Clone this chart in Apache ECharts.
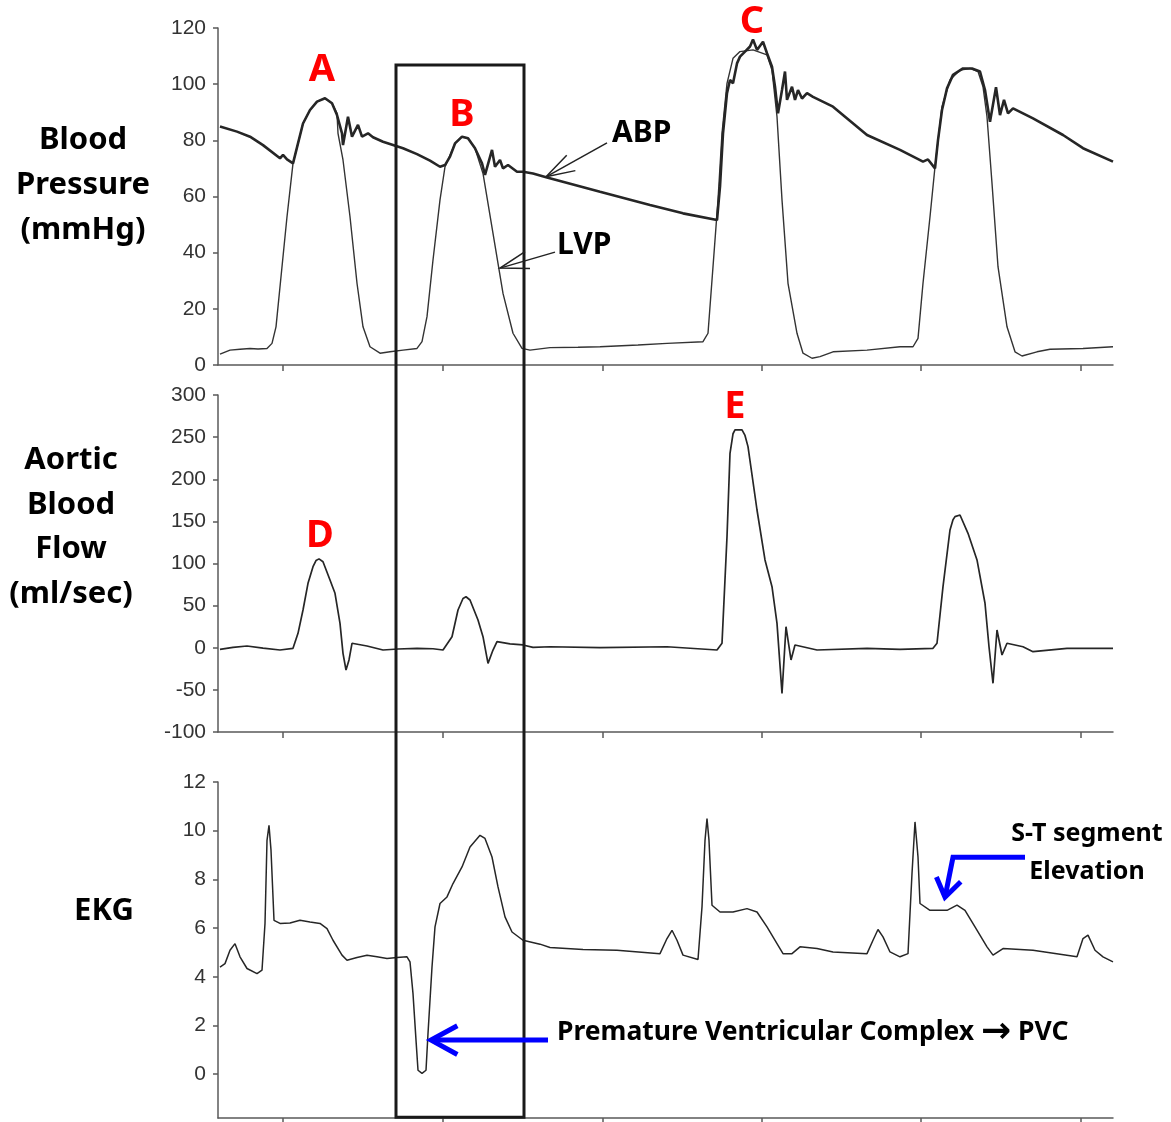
<!DOCTYPE html>
<html>
<head>
    <meta charset="utf-8">
    <script type="text/javascript" src="https://cdn.jsdelivr.net/npm/echarts@6/dist/echarts.min.js"></script>
    <style>
        html, body { margin: 0; padding: 0; background: #fff; }
    </style>
</head>
<body>
<div id="main" style="width:1171px;height:1122px;"></div>

<script type="text/javascript">
    // time axis is in samples; ticks where the original recording had them
    var timeTicks = [65, 225, 385, 544, 703, 863];
    var ekgTicks = [0, 2, 4, 6, 8, 10, 12];

    // arterial blood pressure (mmHg)
    var abp = [[2,84.9],[19,83.1],[32,81.3],[45,78.3],[62,73.6],[65,74.8],[69,73.2],[75,71.8],[80,78.9],[85,86],
        [92,90.8],[99,93.8],[107,95],[114,93.2],[119,89],[124,82.5],[125,78.3],[130,88.4],[134,81.3],[140,85.5],
        [144,81.3],[150,82.5],[155,81.1],[165,79.5],[185,77.2],[199,75.1],[212,72.8],[222,70.6],[227,71.2],[232,74.2],
        [237,78.9],[244,81.3],[250,80.7],[257,77.2],[264,71.8],[267,67.7],[274,76.6],[277,70.6],[282,73],[285,70],
        [290,71.2],[299,68.8],[305,68.8],[315,68.2],[329,66.8],[382,61.7],[432,57],[465,54],[499,51.6],[502,63.5],
        [505,82.5],[509,96.8],[512,101.5],[515,100.3],[519,107.4],[522,109.8],[527,111.6],[532,113.4],[535,115.9],[539,112.2],
        [545,115.1],[549,111],[554,106.2],[557,99.1],[560,89.6],[564,97.9],[567,104.5],[569,94.4],[574,99.1],[577,94.4],
        [580,97.9],[584,94.9],[589,96.8],[595,95.5],[615,92],[649,81.9],[682,76.6],[705,72.4],[710,73.2],[717,70],
        [720,80.1],[724,90.8],[729,98.5],[735,103.3],[745,105.6],[754,105.6],[762,104.5],[767,97.9],[772,86.6],[778,98.9],
        [782,89],[786,94.4],[790,89.6],[795,91.4],[815,87.8],[845,81.9],[865,77.2],[895,72.4]];

    // left ventricular pressure (mmHg)
    var lvp = [[2,3.9],[12,5.3],[22,5.6],[32,5.9],[40,5.7],[49,5.9],[54,7.7],[58,13.6],[64,35],[69,52.8],
        [75,71.8],[85,86],[92,90.8],[99,93.8],[107,95],[114,93.2],[119,89.6],[120,82.5],[125,73],[132,52.8],
        [139,29.1],[145,13.6],[152,6.5],[162,4.2],[172,4.7],[185,5.3],[199,5.9],[204,8.3],[209,17.2],[215,37.4],
        [222,58.8],[227,70.6],[237,78.9],[244,81.3],[250,80.7],[257,77.2],[265,68.2],[275,46.9],[285,25.5],[295,11.3],
        [304,5.9],[312,5.3],[332,6.2],[360,6.3],[382,6.5],[420,7.1],[449,7.7],[485,8.3],[490,11.3],[495,35],
        [500,58.8],[504,82.5],[509,100.3],[515,109.2],[522,111.6],[535,112.2],[549,110.4],[554,105],[559,88.4],[564,58.8],
        [570,29.1],[579,11.3],[585,4.2],[594,2.4],[602,3],[615,4.7],[649,5.3],[682,6.5],[695,6.5],[700,9.5],
        [705,29.1],[712,52.8],[717,70.6],[724,92],[732,101.5],[742,105],[752,105.6],[760,104.5],[765,99.1],[769,88.4],
        [774,64.7],[780,35],[789,13.6],[797,4.7],[804,3.2],[819,4.7],[832,5.6],[865,5.9],[895,6.5]];

    // aortic blood flow (ml/sec)
    var flow = [[2,-1.9],[15,0.5],[29,2.1],[45,-0.5],[62,-2.7],[75,-0.7],[80,17.1],[85,44.8],[90,76.5],[95,96.2],
        [98,103.5],[101,105.5],[105,102.1],[112,80.4],[117,64.6],[122,29],[125,-6.6],[128,-26.4],[131,-14.5],[134,5.3],[149,2.1],
        [165,-2.7],[180,-1.5],[199,-0.7],[215,-1.2],[225,-2.7],[234,13.1],[240,44.8],[245,58.5],[248,60.5],[252,56.7],[260,32.9],
        [265,13.1],[270,-18.5],[275,-2.7],[279,7.2],[292,4.5],[305,3.3],[315,0.5],[332,1.2],[382,0.1],[449,1.2],
        [499,-2.7],[504,5.3],[509,131.8],[512,230.8],[515,254],[517,258.5],[524,258.5],[527,252],[530,238.7],[539,163.5],[547,104.2],[554,72.5],
        [559,29],[564,-54.1],[568,25],[573,-14.5],[577,3.3],[599,-2.7],[649,-0.7],[682,-1.9],[715,-0.7],[719,5.3],
        [725,72.5],[732,139.8],[735,152],[737,155.6],[742,157.6],[750,135.8],[759,104.2],[767,52.8],[771,1.2],[775,-42.2],[779,21.1],
        [784,-8.6],[789,5.3],[805,1.2],[815,-4.7],[849,-0.7],[895,-0.7]];

    // EKG (mV, offset)
    var ekg = [[2,4.4],[7,4.54],[12,5.09],[17,5.36],[22,4.82],[29,4.34],[39,4.13],[44,4.27],[47,6.19],[49,9.6],
        [51,10.22],[53,9.2],[56,6.32],[62,6.19],[72,6.21],[82,6.32],[92,6.25],[102,6.19],[109,5.98],[115,5.5],
        [124,4.89],[129,4.68],[139,4.79],[149,4.88],[159,4.82],[169,4.75],[179,4.79],[189,4.82],[192,4.61],[195,3.31],
        [198,1.4],[200,0.16],[204,0.03],[208,0.16],[210,1.67],[214,4.4],[217,6.05],[222,7.01],[229,7.28],[235,7.83],
        [244,8.51],[252,9.33],[262,9.81],[267,9.68],[274,8.92],[280,7.69],[287,6.46],[294,5.84],[305,5.5],[322,5.34],
        [332,5.2],[365,5.12],[399,5.09],[442,4.95],[449,5.57],[454,5.91],[459,5.5],[465,4.89],[480,4.71],[484,6.87],
        [487,9.6],[489,10.5],[491,9.6],[494,6.94],[502,6.66],[515,6.66],[529,6.8],[539,6.66],[549,6.05],[559,5.36],
        [565,4.95],[574,4.95],[582,5.23],[599,5.16],[615,5.02],[649,4.95],[655,5.5],[660,5.94],[665,5.64],[672,5.02],
        [682,4.82],[690,4.95],[694,8.24],[697,10.36],[700,8.92],[702,7.01],[712,6.73],[729,6.73],[739,6.94],[747,6.73],
        [757,6.05],[769,5.23],[775,4.89],[785,5.16],[815,5.09],[859,4.82],[865,5.57],[870,5.71],[877,5.09],[885,4.82],
        [895,4.61]];

    var axisColor = '#5a5a5a';
    var lineColor = '#262626';

    function xAxis(i) {
        return {
            type: 'value', gridIndex: i, min: 0, max: 895,
            axisLine: { onZero: false, lineStyle: { color: axisColor, width: 1.5 } },
            axisTick: { show: true, length: 6, customValues: timeTicks, lineStyle: { color: axisColor, width: 1.5 } },
            axisLabel: { show: false },
            splitLine: { show: false }
        };
    }
    function yAxis(i, extra) {
        var ax = {
            type: 'value', gridIndex: i,
            axisLine: { show: true, onZero: false, lineStyle: { color: axisColor, width: 1.5 } },
            axisTick: { show: true, length: 5, lineStyle: { color: axisColor, width: 1.5 } },
            axisLabel: { color: '#333', fontSize: 21, fontFamily: 'Liberation Sans', margin: 12 },
            splitLine: { show: false }
        };
        for (var k in extra) {
            if (typeof extra[k] === 'object' && ax[k]) Object.assign(ax[k], extra[k]);
            else ax[k] = extra[k];
        }
        return ax;
    }

    var chart = echarts.init(document.getElementById('main'));
    chart.setOption({
        animation: false,
        backgroundColor: '#fff',
        grid: [
            { left: 218, right: 58, top: 28, height: 337, outerBoundsMode: 'none' },
            { left: 218, right: 58, top: 395, height: 337, outerBoundsMode: 'none' },
            { left: 218, right: 58, top: 782, height: 336, outerBoundsMode: 'none' }
        ],
        xAxis: [xAxis(0), xAxis(1), xAxis(2)],
        yAxis: [
            yAxis(0, { min: 0, max: 120, interval: 20 }),
            yAxis(1, { min: -100, max: 300, interval: 50 }),
            yAxis(2, { min: -1.8, max: 12, axisTick: { customValues: ekgTicks }, axisLabel: { customValues: ekgTicks } })
        ],
        series: [
            { name: 'LVP', type: 'line', xAxisIndex: 0, yAxisIndex: 0, data: lvp, showSymbol: false, z: 2,
              lineStyle: { color: '#333', width: 1.4 } },
            { name: 'ABP', type: 'line', xAxisIndex: 0, yAxisIndex: 0, data: abp, showSymbol: false, z: 3,
              lineStyle: { color: lineColor, width: 2.6 } },
            { name: 'Flow', type: 'line', xAxisIndex: 1, yAxisIndex: 1, data: flow, showSymbol: false,
              lineStyle: { color: lineColor, width: 1.7 } },
            { name: 'EKG', type: 'line', xAxisIndex: 2, yAxisIndex: 2, data: ekg, showSymbol: false,
              lineStyle: { color: lineColor, width: 1.5 } }
        ]
    });

    // annotations, anchored in data coordinates of each panel
    function px(g, pt) { return chart.convertToPixel({ gridIndex: g }, pt); }
    function head(from, tip, len, ang) {
        var a = Math.atan2(from[1] - tip[1], from[0] - tip[0]);
        return [[tip[0] + len * Math.cos(a + ang), tip[1] + len * Math.sin(a + ang)], tip,
                [tip[0] + len * Math.cos(a - ang), tip[1] + len * Math.sin(a - ang)]];
    }
    var boldFont = '"Noto Sans", "Open Sans", sans-serif';
    function label(p, txt, size, color, align) {
        return { type: 'text', z: 20, style: { x: p[0], y: p[1], text: txt, fill: color,
            fontSize: size, fontWeight: 'bold', fontFamily: boldFont, textAlign: align || 'center', textVerticalAlign: 'middle' } };
    }
    function poly(points, color, width) {
        return { type: 'polyline', z: 20, shape: { points: points }, style: { stroke: color, lineWidth: width, fill: null, lineJoin: 'miter' } };
    }

    var g = [];
    // box round the PVC beat
    var b1 = px(0, [178, 106.8]), b2 = px(2, [306, -1.77]);
    g.push({ type: 'rect', z: 15, shape: { x: b1[0], y: b1[1], width: b2[0] - b1[0], height: b2[1] - b1[1] },
        style: { stroke: '#1a1a1a', lineWidth: 3, fill: null } });

    // panel titles
    g.push({ type: 'text', style: { x: 83, y: 185, text: 'Blood\nPressure\n(mmHg)', fill: '#000', fontSize: 31,
        fontWeight: 'bold', fontFamily: boldFont, lineHeight: 45, textAlign: 'center', textVerticalAlign: 'middle' } });
    g.push({ type: 'text', style: { x: 71, y: 527, text: 'Aortic\nBlood\nFlow\n(ml/sec)', fill: '#000', fontSize: 31,
        fontWeight: 'bold', fontFamily: boldFont, lineHeight: 44.5, textAlign: 'center', textVerticalAlign: 'middle' } });
    g.push({ type: 'text', style: { x: 104, y: 911, text: 'EKG', fill: '#000', fontSize: 31,
        fontWeight: 'bold', fontFamily: boldFont, textAlign: 'center', textVerticalAlign: 'middle' } });

    // red peak letters
    g.push(label(px(0, [104, 105.1]), 'A', 38, '#ff0000'));
    g.push(label(px(0, [244, 89.0]), 'B', 38, '#ff0000'));
    g.push(label(px(0, [534, 122.2]), 'C', 38, '#ff0000'));
    g.push(label(px(1, [102, 132.6]), 'D', 38, '#ff0000'));
    g.push(label(px(1, [517, 285.8]), 'E', 38, '#ff0000'));

    // ABP / LVP pointers
    g.push(label(px(0, [394, 82.6]), 'ABP', 30, '#000', 'left'));
    g.push(label(px(0, [339, 42.4]), 'LVP', 30, '#000', 'left'));
    var abpFrom = px(0, [389, 79.1]), abpTip = px(0, [328, 67.0]);
    g.push(poly([abpFrom, abpTip], '#222', 1.5));
    g.push(poly(head(abpFrom, abpTip, 30, 0.3), '#222', 1.5));
    var lvpFrom = px(0, [337, 40.2]), lvpTip = px(0, [282, 34.5]);
    g.push(poly([lvpFrom, lvpTip], '#222', 1.5));
    g.push(poly(head(lvpFrom, lvpTip, 30, 0.3), '#222', 1.5));

    // PVC pointer
    var pvcAt = px(2, [339, 1.72]);
    g.push({ type: 'text', z: 20, style: { x: pvcAt[0], y: pvcAt[1], textAlign: 'left', textVerticalAlign: 'middle',
        text: '{t|Premature Ventricular Complex }{a|\u2192}{t| PVC}',
        rich: {
            t: { fontSize: 26.5, fontWeight: 'bold', fontFamily: boldFont, fill: '#000' },
            a: { fontSize: 36, fontWeight: 'bold', fontFamily: 'DejaVu Sans', fill: '#000' }
        } } });
    var pvcFrom = px(2, [330, 1.40]), pvcTip = px(2, [213, 1.40]);
    g.push(poly([pvcFrom, [pvcTip[0] + 2, pvcTip[1]]], '#0000ff', 5));
    g.push(poly(head(pvcFrom, pvcTip, 30, 0.5), '#0000ff', 5));

    // S-T elevation pointer
    g.push(label(px(2, [869, 9.85]), 'S-T segment', 25, '#000'));
    g.push(label(px(2, [869, 8.29]), 'Elevation', 25, '#000'));
    var st1 = px(2, [807, 8.91]), st2 = px(2, [735, 8.91]), stTip = px(2, [727, 7.27]);
    g.push(poly([st1, st2, stTip], '#0000ff', 5));
    g.push(poly(head(st2, stTip, 22, 0.6), '#0000ff', 5));

    chart.setOption({ graphic: g });
</script>
</body>
</html>
